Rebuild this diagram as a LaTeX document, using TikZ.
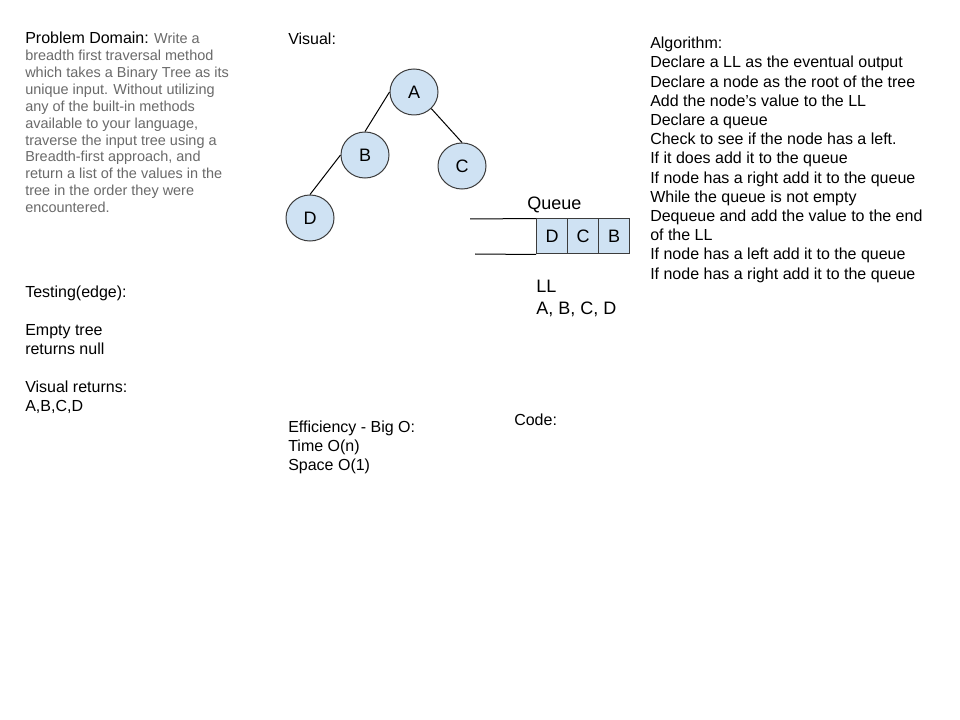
\documentclass[tikz,border=0pt]{standalone}
\usepackage{fontspec}
\setmainfont{Liberation Sans}
\usetikzlibrary{positioning, shapes.geometric}
\definecolor{cNODE}{HTML}{CFE2F3}
\definecolor{cDESC}{HTML}{6A6A6A}
\definecolor{cLINE}{HTML}{3C3C3C}

\begin{document}
\begin{tikzpicture}[x=0.75pt, y=-0.75pt,
  blocktext/.style={inner sep=0pt, align=left, anchor=north west, font=\fontsize{12}{14.3}\selectfont},
  plaintext/.style={inner sep=0pt, anchor=base west, font=\fontsize{12}{14.3}\selectfont},
  treenode/.style={ellipse, draw=cLINE, fill=cNODE, line width=0.75pt, minimum width=36pt, minimum height=34.5pt, inner sep=0pt, font=\fontsize{13.5}{16}\selectfont},
  cell/.style={draw=cLINE, fill=cNODE, line width=0.75pt, minimum width=23.25pt, minimum height=26.25pt, inner sep=0pt, font=\fontsize{13.5}{16}\selectfont},
  branch/.style={draw, line width=0.75pt},
]
\path[fill=white, use as bounding box] (0,0) rectangle (960,720);

% left column
\node[blocktext, font=\fontsize{10.85}{12.7}\selectfont, text=cDESC] (domain) at (25,31.6)
  {{\color{black}\fontsize{12}{12.7}\selectfont Problem Domain:} Write a\\
   breadth first traversal method\\
   which takes a Binary Tree as its\\
   unique input. Without utilizing\\
   any of the built-in methods\\
   available to your language,\\
   traverse the input tree using a\\
   Breadth-first approach, and\\
   return a list of the values in the\\
   tree in the order they were\\
   encountered.};
\node[blocktext] (testing) at (25,285.5)
  {Testing(edge):\\[14.3pt]
   Empty tree\\
   returns null\\[14.3pt]
   Visual returns:\\
   A,B,C,D};

% tree
\node[plaintext] (visual) at (288,45) {Visual:};
\node[treenode] (A) at (414,92) {A};
\node[treenode] (B) at (365,155) {B};
\node[treenode] (C) at (462,166) {C};
\node[treenode] (D) at (310,218) {D};
\draw[branch] (A.west) -- (B.north);
\draw[branch] (A.south east) -- (C.north);
\draw[branch] (B.west) -- (D.north);

% queue
\node[plaintext, font=\fontsize{13.5}{16}\selectfont] (queue) at (527,210) {Queue};
\node[cell] (qD) at (552,236.5) {D};
\node[cell, right=-\pgflinewidth of qD] (qC) {C};
\node[cell, right=-\pgflinewidth of qC] (qB) {B};
\coordinate (qtop) at (470,219);
\coordinate (qbot) at (475,254);
\draw[branch] (qtop) -- (qD.north west);
\draw[branch] (qbot) -- (qD.south west);
\node[blocktext, font=\fontsize{13.5}{16.5}\selectfont] (ll) at (536,279.5)
  {LL\\ A, B, C, D};

% bottom
\node[blocktext] (bigo) at (288,420.5)
  {Efficiency - Big O:\\
   Time O(n)\\
   Space O(1)};
\node[plaintext] (code) at (514,425) {Code:};

% right column
\node[blocktext, font=\fontsize{12}{14.4}\selectfont] (algo) at (650,36.9)
  {Algorithm:\\
   Declare a LL as the eventual output\\
   Declare a node as the root of the tree\\
   Add the node’s value to the LL\\
   Declare a queue\\
   Check to see if the node has a left.\\
   If it does add it to the queue\\
   If node has a right add it to the queue\\
   While the queue is not empty\\
   Dequeue and add the value to the end\\
   of the LL\\
   If node has a left add it to the queue\\
   If node has a right add it to the queue};
\end{tikzpicture}
\end{document}
